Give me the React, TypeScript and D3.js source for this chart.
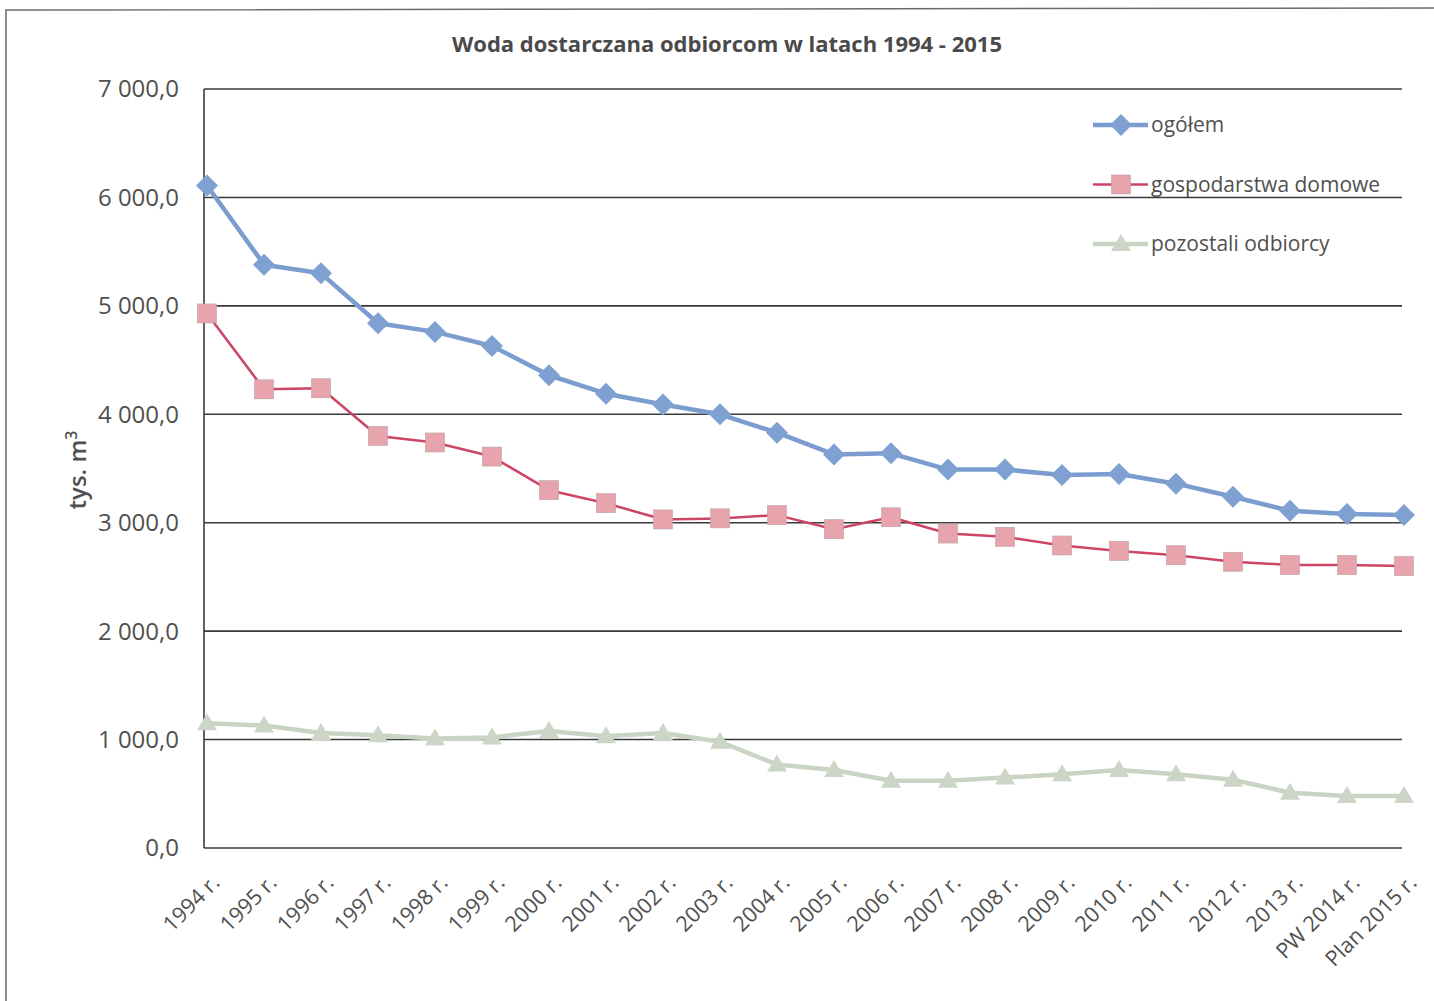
import { useMemo } from "react";
import * as d3 from "d3";

const width = 1434;
const height = 1001;
const margin = { top: 89, right: 30, bottom: 153, left: 207 };

const title = "Woda dostarczana odbiorcom w latach 1994 - 2015";

const years = [
  "1994 r.", "1995 r.", "1996 r.", "1997 r.", "1998 r.", "1999 r.",
  "2000 r.", "2001 r.", "2002 r.", "2003 r.", "2004 r.", "2005 r.",
  "2006 r.", "2007 r.", "2008 r.", "2009 r.", "2010 r.", "2011 r.",
  "2012 r.", "2013 r.", "PW 2014 r.", "Plan 2015 r.",
];

const ogolem = [
  6110, 5380, 5300, 4840, 4760, 4630, 4360, 4190, 4090, 4000, 3830,
  3630, 3640, 3490, 3490, 3440, 3450, 3360, 3240, 3110, 3080, 3070,
];
const gospodarstwa = [
  4930, 4230, 4240, 3800, 3740, 3610, 3300, 3180, 3030, 3040, 3070,
  2940, 3050, 2900, 2870, 2790, 2740, 2700, 2640, 2610, 2610, 2600,
];
const pozostali = [
  1150, 1130, 1060, 1040, 1010, 1020, 1080, 1030, 1060, 980, 770,
  720, 620, 620, 650, 680, 720, 680, 630, 510, 480, 480,
];

const yTicks = [0, 1000, 2000, 3000, 4000, 5000, 6000, 7000];

const series = [
  { name: "ogółem", values: ogolem, line: "#7b9ccf", lineWidth: 4.5, marker: "diamond", fill: "#7fa1d2" },
  { name: "gospodarstwa domowe", values: gospodarstwa, line: "#cc4565", lineWidth: 2.5, marker: "square", fill: "#e8a4ad" },
  { name: "pozostali odbiorcy", values: pozostali, line: "#c9d4c4", lineWidth: 4.5, marker: "triangle", fill: "#cbd6c6" },
];

const plFormat = d3.formatLocale({
  decimal: ",",
  thousands: "\u00a0",
  grouping: [3],
  currency: ["", " zł"],
}).format(",.1f");

const font = "'Open Sans', 'DejaVu Sans', sans-serif";
const textColor = "#505050";

const Marker = ({ type, x, y, fill }: { type: string; x: number; y: number; fill: string }) => {
  if (type === "diamond") {
    const r = 11;
    return <path d={`M${x},${y - r}L${x + r},${y}L${x},${y + r}L${x - r},${y}Z`} fill={fill} />;
  }
  if (type === "square") {
    const s = 19;
    return <rect x={x - s / 2} y={y - s / 2} width={s} height={s} fill={fill} stroke="#b9a0a0" strokeWidth={0.6} />;
  }
  const r = 10;
  return <path d={`M${x},${y - r}L${x + r},${y + r * 0.7}L${x - r},${y + r * 0.7}Z`} fill={fill} />;
};

const App = () => {
  const { xScale, yScale } = useMemo(() => {
    const xScale = d3
      .scalePoint<string>()
      .domain(years)
      .range([margin.left, width - margin.right]);
    const yScale = d3
      .scaleLinear()
      .domain([0, 7000])
      .range([height - margin.bottom, margin.top]);
    return { xScale, yScale };
  }, []);

  const line = d3
    .line<number>()
    .x((_, i) => xScale(years[i]) as number)
    .y((d) => yScale(d));

  const plotLeft = margin.left - 3;
  const plotRight = width - margin.right - 2;

  return (
    <svg
      width={width}
      height={height}
      style={{ position: "absolute", left: 0, top: 0, background: "#fff" }}
      fontFamily={font}
    >
      {/* page frame of the scanned chart */}
      <path d={`M6,${height}L6,10L${width},8`} fill="none" stroke="#6a6a6a" strokeWidth={1.5} />

      <text x={727} y={52} textAnchor="middle" fontSize={22} fontWeight="bold" fill="#4a4a4a">
        {title}
      </text>

      {/* grid */}
      {yTicks.map((t) => (
        <g key={t}>
          <line x1={plotLeft} x2={plotRight} y1={yScale(t)} y2={yScale(t)} stroke="#3a3a3a" strokeWidth={1.6} />
          <text x={179} y={yScale(t)} dy="0.35em" textAnchor="end" fontSize={24} fill={textColor}>
            {plFormat(t)}
          </text>
        </g>
      ))}
      <line x1={plotLeft} x2={plotLeft} y1={yScale(7000)} y2={yScale(0)} stroke="#3a3a3a" strokeWidth={1.6} />

      <text transform="translate(86,470) rotate(-90)" textAnchor="middle" fontSize={24} fontWeight={600} fill={textColor}>
        tys. m<tspan dy="-9" fontSize={16}>3</tspan>
      </text>

      {/* x labels */}
      {years.map((y) => (
        <text
          key={y}
          transform={`translate(${(xScale(y) as number) + 14},${height - margin.bottom + 36}) rotate(-45)`}
          textAnchor="end"
          fontSize={21.5}
          fill={textColor}
        >
          {y}
        </text>
      ))}

      {/* series */}
      {series.map((s) => (
        <g key={s.name}>
          <path d={line(s.values) ?? ""} fill="none" stroke={s.line} strokeWidth={s.lineWidth} strokeLinejoin="round" />
          {s.values.map((v, i) => (
            <Marker key={i} type={s.marker} x={xScale(years[i]) as number} y={yScale(v)} fill={s.fill} />
          ))}
        </g>
      ))}

      {/* legend */}
      {series.map((s, i) => {
        const ly = 125 + i * 59.5;
        return (
          <g key={s.name}>
            <line x1={1093} x2={1148} y1={ly} y2={ly} stroke={s.line} strokeWidth={s.lineWidth} />
            <Marker type={s.marker} x={1121} y={ly} fill={s.fill} />
            <text x={1151} y={ly} dy="0.35em" fontSize={21} fill={textColor}>
              {s.name}
            </text>
          </g>
        );
      })}
    </svg>
  );
};

export default App;
